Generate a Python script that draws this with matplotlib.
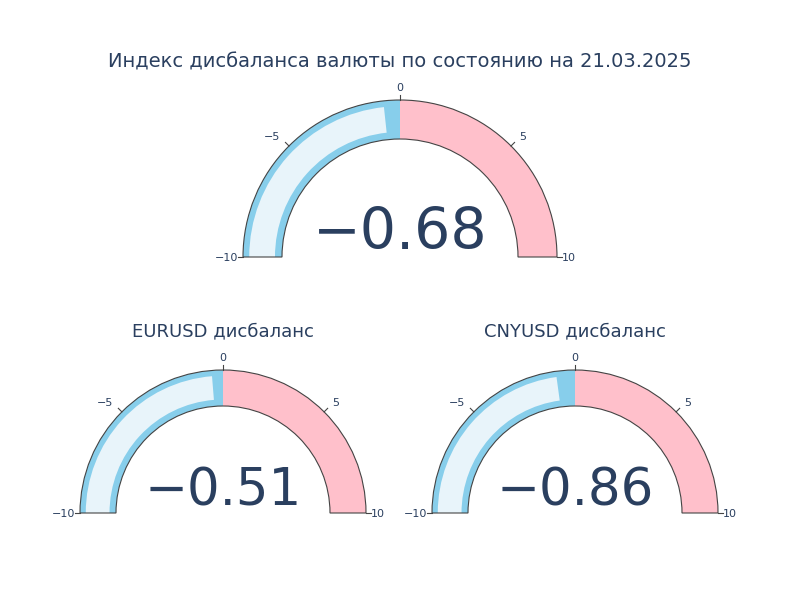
import matplotlib.pyplot as plt
from matplotlib.patches import Wedge
import numpy as np

plt.rcParams['font.family'] = ['DejaVu Sans']

title = "Индекс дисбаланса валюты по состоянию на 21.03.2025"
names = ["", "EURUSD дисбаланс", "CNYUSD дисбаланс"]
values = [-0.68, -0.51, -0.86]
ticks = [-10, -5, 0, 5, 10]
vmin, vmax = -10, 10

# gauge layout in pixels: center x, center y, outer radius, inner radius, number size
layout = [(400, 257, 157, 118, 41), (223, 513, 143, 107, 37), (575, 513, 143, 107, 37)]
txt = '#2a3f5f'

fig = plt.figure(figsize=(8, 6), dpi=100)
ax = fig.add_axes([0, 0, 1, 1])
ax.set_xlim(0, 800)
ax.set_ylim(600, 0)
ax.set_aspect('equal')
ax.axis('off')


def ang(v):
    return 180 - (v - vmin) / (vmax - vmin) * 180


for (cx, cy, ro, ri, fs), name, val in zip(layout, names, values):
    w = ro - ri
    # y axis is flipped, so angles are mirrored: use negative angles
    def wedge(v1, v2, r, width, **kw):
        a1, a2 = ang(v2), ang(v1)
        ax.add_patch(Wedge((cx, cy), r, -a2, -a1, width=width, **kw))
    wedge(vmin, 0, ro, w, facecolor='skyblue', edgecolor='none')
    wedge(0, vmax, ro, w, facecolor='pink', edgecolor='none')
    wedge(vmin, val, ro - w * 0.16, w * 0.66, facecolor='#e8f4fa', edgecolor='none')
    wedge(vmin, vmax, ro, w, facecolor='none', edgecolor='#444444', linewidth=0.8)
    for t in ticks:
        a = np.deg2rad(ang(t))
        x0, y0 = cx + ro * np.cos(a), cy - ro * np.sin(a)
        x1, y1 = cx + (ro + 5) * np.cos(a), cy - (ro + 5) * np.sin(a)
        ax.plot([x0, x1], [y0, y1], color='#444444', lw=0.8)
        xl, yl = cx + (ro + 12) * np.cos(a), cy - (ro + 12) * np.sin(a)
        ha = 'center'
        if t < 0 and t > vmin:
            ha = 'right'
        elif t > 0 and t < vmax:
            ha = 'left'
        if t == vmin:
            xl, yl, ha = cx - ro - 5, cy + 1, 'right'
        if t == vmax:
            xl, yl, ha = cx + ro + 5, cy + 1, 'left'
        ax.text(xl, yl, str(t).replace('-', '\u2212'), ha=ha, va='center',
                fontsize=8, color=txt)
    ax.text(cx, cy - 8, f"{val:.2f}".replace('-', '\u2212'), ha='center',
            va='baseline', fontsize=fs, color=txt)
    if name:
        ax.text(cx, cy - ro - 39, name, ha='center', va='center', fontsize=13, color=txt)

ax.text(400, 62, title, ha='center', va='center', fontsize=14, color=txt)

fig.savefig('out.png', dpi=100)
